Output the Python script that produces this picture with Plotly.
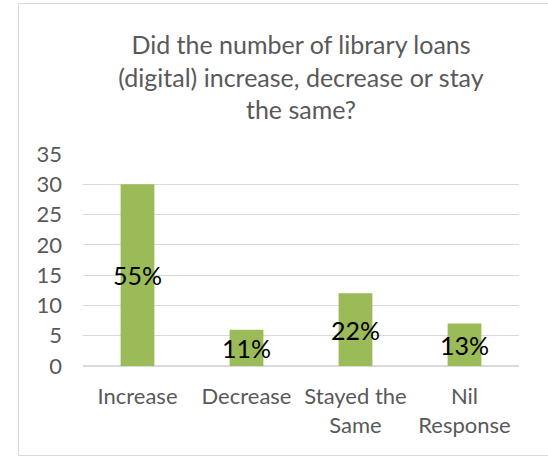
import plotly.graph_objects as go

categories = ["Increase", "Decrease", "Stayed the<br>Same", "Nil<br>Response"]
counts = [30, 6, 12, 7]
pct_labels = ["55%", "11%", "22%", "13%"]
y_ticks = [0, 5, 10, 15, 20, 25, 30, 35]

FONT = "Lato, Carlito, Calibri, sans-serif"
W, H = 548, 457
L, R, T, B = 83, 29, 154, 91
pw, ph = W - L - R, H - T - B

fig = go.Figure(
    go.Bar(
        x=categories,
        y=counts,
        marker=dict(color="#9bbb59", line=dict(width=0)),
        width=0.31,
        text=pct_labels,
        textposition="inside",
        textangle=0,
        insidetextanchor="middle",
        constraintext="none",
        textfont=dict(family=FONT, size=25, color="#000000"),
        cliponaxis=False,
        hoverinfo="skip",
    )
)

# outer chart frame (right edge runs past the page)
fig.add_shape(
    type="rect", xref="paper", yref="paper",
    x0=(18.5 - L) / pw, x1=(560 - L) / pw,
    y0=(T + ph - 455.5) / ph,
    y1=(T + ph - 3.5) / ph,
    line=dict(color="#d9d9d9", width=1), fillcolor="rgba(0,0,0,0)", layer="below",
)

fig.update_layout(
    width=W, height=H,
    margin=dict(l=L, r=R, t=T, b=B, pad=0),
    paper_bgcolor="#ffffff", plot_bgcolor="#ffffff",
    showlegend=False,
    bargap=0.69,
    title=dict(
        text="Did the number of library loans<br>(digital) increase, decrease or stay<br>the same?",
        x=0.5, xanchor="center", xref="paper",
        y=1 - 54 / H, yanchor="top",
        font=dict(family=FONT, size=25, color="#595959"),
    ),
    xaxis=dict(
        showgrid=False, zeroline=False, showline=False,
        ticks="", ticklabelstandoff=15,
        tickfont=dict(family=FONT, size=22, color="#595959"),
    ),
    yaxis=dict(
        range=[0, 35], tickvals=y_ticks, showgrid=True, gridcolor="#d9d9d9",
        gridwidth=1, zeroline=True, zerolinecolor="#d9d9d9", showline=False,
        ticks="", ticklabelstandoff=20,
        tickfont=dict(family=FONT, size=22, color="#595959"),
    ),
)

fig.write_html("out.html")
